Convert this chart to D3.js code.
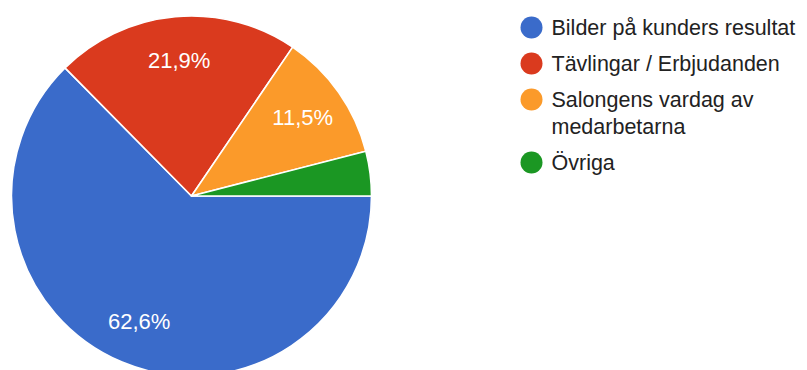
<!DOCTYPE html>
<html>
<head>
<meta charset="utf-8">
<script src="https://cdn.jsdelivr.net/npm/d3@7/dist/d3.min.js"></script>
<style>
  html, body { margin: 0; padding: 0; background: #ffffff; }
  svg { display: block; font-family: "Liberation Sans", Arial, Helvetica, sans-serif; }
</style>
</head>
<body>
<svg id="chart" width="807" height="370"></svg>
<script>
// Survey answers and their shares (percent)
const categories = [
  "Bilder på kunders resultat",
  "Tävlingar / Erbjudanden",
  "Salongens vardag av medarbetarna",
  "Övriga"
];
const shares = [62.6, 21.9, 11.5, 4.0];
const colors = ["#3a6bca", "#da3a1e", "#fb9a2a", "#1b9723"];

const svg = d3.select("#chart");
const W = 807, H = 370;

// Pie geometry
const cx = 191.5, cy = 196, radius = 180;

const pie = d3.pie()
  .sort(null)
  .value(d => d)
  .startAngle(Math.PI / 2)
  .endAngle(Math.PI / 2 + 2 * Math.PI);

const arcs = pie(shares);
const arc = d3.arc().innerRadius(0).outerRadius(radius);
const labelArc = d3.arc().innerRadius(radius * 0.755).outerRadius(radius * 0.755);

const gPie = svg.append("g").attr("transform", `translate(${cx},${cy})`);

gPie.selectAll("path.slice")
  .data(arcs)
  .join("path")
  .attr("class", "slice")
  .attr("d", arc)
  .attr("fill", (d, i) => colors[i])
  .attr("stroke", "#ffffff")
  .attr("stroke-width", 1.6)
  .attr("stroke-linejoin", "round");

// Percentage labels, only on slices large enough to hold them
const fmt = v => v.toFixed(1).replace(".", ",") + "%";
gPie.selectAll("text.pct")
  .data(arcs.filter(d => d.data >= 5))
  .join("text")
  .attr("class", "pct")
  .attr("transform", d => `translate(${labelArc.centroid(d)})`)
  .attr("text-anchor", "middle")
  .attr("dominant-baseline", "central")
  .attr("fill", "#ffffff")
  .attr("font-size", 22)
  .text(d => fmt(d.data));

// Legend
const legendX = 531.5, textX = 551.5, firstBaseline = 35;
const itemStep = 36, lineHeight = 27, maxTextWidth = 250;
const gLegend = svg.append("g");

let baseline = firstBaseline;
categories.forEach((name, i) => {
  const item = gLegend.append("g");
  item.append("circle")
    .attr("cx", legendX)
    .attr("cy", baseline - 7.5)
    .attr("r", 11)
    .attr("fill", colors[i]);

  const text = item.append("text")
    .attr("x", textX)
    .attr("y", baseline)
    .attr("font-size", 21.5)
    .attr("fill", "#222222");

  // word-wrap the label to the available width
  const words = name.split(" ");
  let line = [];
  let tspan = text.append("tspan").attr("x", textX).attr("y", baseline);
  let lines = 1;
  words.forEach(w => {
    line.push(w);
    tspan.text(line.join(" "));
    if (tspan.node().getComputedTextLength() > maxTextWidth && line.length > 1) {
      line.pop();
      tspan.text(line.join(" "));
      line = [w];
      tspan = text.append("tspan")
        .attr("x", textX)
        .attr("y", baseline + lines * lineHeight)
        .text(w);
      lines += 1;
    }
  });
  baseline += itemStep + (lines - 1) * lineHeight;
});
</script>
</body>
</html>
